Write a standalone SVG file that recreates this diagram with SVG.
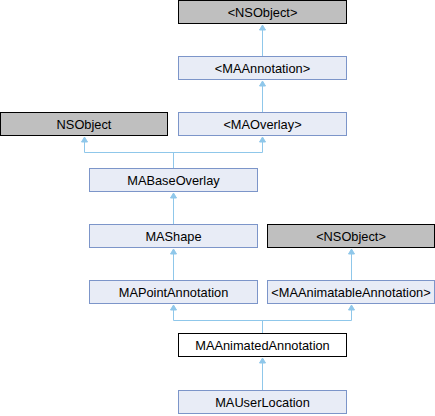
<svg xmlns="http://www.w3.org/2000/svg" width="435" height="416" viewBox="0 0 435 416">
<defs>
<style>
.n rect{fill:#e8ecf6;stroke:#7c95c9;stroke-width:1}
.g rect{fill:#bfbfbf;stroke:#000;stroke-width:1}
.w rect{fill:#fff;stroke:#000;stroke-width:1}
text{font-family:"Liberation Sans",Arial,sans-serif;font-size:12.8px;fill:#000;text-anchor:middle}
.e path{fill:none;stroke:#8fc7ea;stroke-width:1}
.e polygon{fill:#8fc7ea;stroke:#8fc7ea;stroke-width:1}
</style>
</defs>
<g class="e" id="connectors">
<path d="M262.5,30V56"/><polygon points="262.5,25 259.5,30 265.5,30"/>
<path d="M262.5,86V112"/><polygon points="262.5,81 259.5,86 265.5,86"/>
<path d="M84.5,142V152.5H262.5V142M173.5,152.5V168"/>
<polygon points="84.5,137 81.5,142 87.5,142"/><polygon points="262.5,137 259.5,142 265.5,142"/>
<path d="M173.5,198V224"/><polygon points="173.5,193 170.5,198 176.5,198"/>
<path d="M173.5,254V280"/><polygon points="173.5,249 170.5,254 176.5,254"/>
<path d="M351.5,254V280"/><polygon points="351.5,249 348.5,254 354.5,254"/>
<path d="M173.5,310V320.5H351.5V310M262.5,320.5V333"/>
<polygon points="173.5,305 170.5,310 176.5,310"/><polygon points="351.5,305 348.5,310 354.5,310"/>
<path d="M262.5,363V390"/><polygon points="262.5,358 259.5,363 265.5,363"/>
</g>
<g id="nsobject_top" class="g"><rect x="178.5" y="0.5" width="168" height="23"/><text x="262.5" y="16.5">&lt;NSObject&gt;</text></g>
<g id="maannotation" class="n"><rect x="178.5" y="56.5" width="168" height="23"/><text x="262.5" y="72.5">&lt;MAAnnotation&gt;</text></g>
<g id="maoverlay" class="n"><rect x="178.5" y="112.5" width="168" height="23"/><text x="262.5" y="128.5">&lt;MAOverlay&gt;</text></g>
<g id="nsobject" class="g"><rect x="0.5" y="112.5" width="167" height="23"/><text x="84" y="128.5">NSObject</text></g>
<g id="mabaseoverlay" class="n"><rect x="89.5" y="168.5" width="168" height="23"/><text x="173.5" y="184.5">MABaseOverlay</text></g>
<g id="mashape" class="n"><rect x="89.5" y="224.5" width="168" height="23"/><text x="173.5" y="240.5">MAShape</text></g>
<g id="nsobject_proto2" class="g"><rect x="267.5" y="224.5" width="167" height="23"/><text x="351" y="240.5">&lt;NSObject&gt;</text></g>
<g id="mapointannotation" class="n"><rect x="89.5" y="280.5" width="168" height="23"/><text x="173.5" y="296.5">MAPointAnnotation</text></g>
<g id="maanimatableannotation" class="n"><rect x="267.5" y="280.5" width="167" height="23"/><text x="351" y="296.5">&lt;MAAnimatableAnnotation&gt;</text></g>
<g id="maanimatedannotation" class="w"><rect x="178.5" y="333.5" width="168" height="23"/><text x="262.5" y="349.5">MAAnimatedAnnotation</text></g>
<g id="mauserlocation" class="n"><rect x="178.5" y="390.5" width="168" height="23"/><text x="262.5" y="406.5">MAUserLocation</text></g>
</svg>
